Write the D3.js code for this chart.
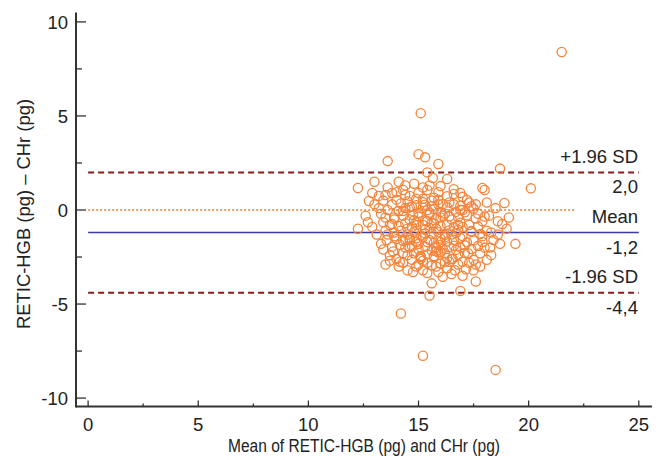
<!DOCTYPE html>
<html><head><meta charset="utf-8">
<script src="https://cdn.jsdelivr.net/npm/d3@7"></script>
<style>body{margin:0;background:#fff}svg{display:block}text{font-family:"Liberation Sans",Arial,sans-serif;fill:#222}</style>
</head><body><svg id="c" width="661" height="460"></svg>
<script>
const meanValues = [21.5,15.1,15.0,15.3,13.6,15.9,18.7,15.4,15.65,16.3,14.1,13.0,12.25,20.1,17.9,18.0,14.3,15.4,15.9,16.0,14.4,14.4,13.2,12.75,16.3,17.2,17.4,18.9,19.1,18.8,12.25,12.7,13.2,13.5,13.4,15.2,15.4,16.1,16.7,14.75,13.6,19.4,18.7,17.6,15.6,16.9,15.5,14.2,15.2,18.5,
14.0,14.15,14.5,14.75,15.2,15.4,15.9,16.3,16.65,17.15,17.5,17.8,18.1,18.25,17.9,18.4,13.55,13.8,13.85,14.15,14.3,14.7,15.0,15.4,15.8,16.2,16.55,17.0,17.5,17.8,17.25,16.9,
18.2,18.5,18.1,18.6,17.9,18.3,17.7,19.0,
12.6,12.9,13.0,13.1,13.3,13.4,13.5,13.7,13.8,13.9,13.7,13.9,13.3,13.6,12.9,
14.6,15.0,15.7,16.6,17.0,14.9,
14.2,14.5,14.9,15.6,15.9,16.4,16.9,17.6,14.0,15.3,
14.1,14.4,15.0,15.2,15.7,16.0,16.3,16.9,17.1,17.5,14.7,
13.9,14.3,14.6,15.0,15.3,15.5,15.8,16.1,16.5,16.8,17.2,17.6,18.0,
13.8,14.1,14.4,14.7,14.9,15.2,15.5,15.7,16.0,16.3,16.6,16.9,17.3,17.7,
13.9,14.2,14.5,14.8,15.1,15.3,15.6,15.9,16.2,16.4,16.7,17.0,17.4,17.8,
14.0,14.3,14.6,14.9,15.2,15.5,15.7,16.0,16.3,16.6,16.9,17.2,17.5,
14.4,14.7,15.0,15.3,15.6,15.9,16.1,16.4,16.7,17.1,17.4,17.7,
14.5,14.8,15.1,15.4,15.7,16.0,16.3,16.8,17.1,
14.3,15.2,15.6,16.0,16.4,16.8,17.3,
14.5,14.9,15.4,15.8,16.2,16.6,17.0,15.1,15.6,16.0,16.5,15.3,15.8,14.8,16.2,15.0,15.5,16.4,16.8,14.6,15.9,17.4,15.2,16.1,
14.8,15.5,16.6,14.0,15.2,16.9,13.5,14.6,15.9,16.6,17.0,13.8,14.3,15.6,
13.6,13.4,13.7,14.1,13.5,14.4,14.9,16.5,17.0,17.6,18.0,18.3,18.6,17.9,18.1,17.3,16.8,16.2,15.7,15.1,14.6,15.8,16.5,15.4,14.9,16.0];
const diffValues = [8.4,5.15,2.97,2.8,2.6,2.45,2.2,2.0,1.7,1.65,1.5,1.5,1.17,1.15,1.17,1.06,1.06,1.06,0.95,1.27,1.3,0.8,0.75,0.48,0.73,0.53,0.2,0.37,-0.4,-0.75,-1.0,-0.65,0.1,-0.4,-0.65,0.42,0.0,0.32,-0.1,-0.27,0.0,-1.8,-1.8,-3.8,-3.9,-4.3,-4.55,-5.5,-7.75,-8.5,
-2.6,-2.75,-3.2,-3.3,-3.2,-3.35,-3.3,-3.1,-3.2,-3.15,-3.2,-3.0,-2.65,-2.0,-1.7,-1.6,-1.6,-1.95,-2.2,-1.85,-2.3,-2.65,-2.9,-2.8,-3.0,-2.75,-2.6,-2.75,-2.65,-2.3,-2.3,-2.0,
-0.3,0.1,-1.1,-1.3,-0.6,-2.4,-0.2,-1.0,
-0.3,-0.9,0.3,-1.3,-0.2,0.5,-1.1,-0.8,0.9,-0.5,-2.7,-1.4,-1.8,1.2,0.9,
0.75,0.9,0.65,0.85,0.7,0.6,
0.35,0.45,0.25,0.5,0.3,0.4,0.22,0.3,0.55,0.28,
-0.05,0.1,-0.15,0.12,0.05,-0.1,0.15,0.0,-0.12,0.08,0.18,
-0.4,-0.3,-0.5,-0.35,-0.55,-0.25,-0.45,-0.3,-0.5,-0.38,-0.28,-0.45,-0.35,
-0.75,-0.85,-0.7,-0.9,-0.65,-0.8,-0.95,-0.7,-0.85,-0.78,-0.92,-0.68,-0.8,-0.88,
-1.2,-1.1,-1.3,-1.15,-1.35,-1.05,-1.25,-1.18,-1.32,-1.08,-1.22,-1.38,-1.12,-1.28,
-1.55,-1.65,-1.5,-1.7,-1.45,-1.6,-1.75,-1.52,-1.68,-1.58,-1.48,-1.72,-1.62,
-2.0,-1.9,-2.1,-1.95,-2.15,-1.85,-2.05,-1.98,-2.12,-1.88,-2.08,-1.92,
-2.4,-2.3,-2.5,-2.35,-2.45,-2.25,-2.55,-2.38,-2.28,
-2.8,-2.7,-2.95,-2.85,-2.75,-2.9,-2.8,
-1.0,-1.5,-0.6,-2.2,-0.2,-1.9,-0.9,-2.45,-0.7,-1.7,-2.6,-1.25,-2.0,-0.55,-1.45,-1.8,-0.15,-0.35,-1.05,-1.6,-2.25,-1.15,0.6,-3.55,
1.4,1.3,1.1,0.95,1.2,0.9,0.8,0.15,0.55,0.3,0.0,0.3,-0.05,0.2,
-1.3,-2.1,-2.4,-3.0,-2.9,-1.6,-3.0,-3.4,-3.5,-2.9,-2.0,-1.2,-0.6,-1.4,0.4,0.4,-0.8,-2.3,-2.5,-2.6,-2.0,-1.0,-1.3,-1.7,-0.8,-0.4];
const xTicks = [0,5,10,15,20,25];
const yTicks = [-10,-5,0,5,10];
const limitValues = [2.0,-1.2,-4.4];
const limitLabels = ["+1.96 SD","Mean","-1.96 SD"];
const limitValueLabels = ["2,0","-1,2","-4,4"];

const svg = d3.select("#c");
const x = d3.scaleLinear().domain([-0.55,25.6]).range([76,652]);
const y = d3.scaleLinear().domain([-10.5,10.5]).range([407.5,12.5]);
const axisCol = "#333";

// reference lines
const g = svg.append("g");
g.append("line").attr("x1",x(0)).attr("x2",x(22.1)).attr("y1",y(0)).attr("y2",y(0))
 .attr("stroke","#f07a2a").attr("stroke-width",1.6).attr("stroke-dasharray","2,2");
g.append("line").attr("x1",x(0)).attr("x2",x(25)).attr("y1",y(limitValues[1])).attr("y2",y(limitValues[1]))
 .attr("stroke","#3b3ba3").attr("stroke-width",1.6);
[limitValues[0],limitValues[2]].forEach(v=>{
  g.append("line").attr("x1",x(0)).attr("x2",x(25)).attr("y1",y(v)).attr("y2",y(v))
   .attr("stroke","#8b1a1a").attr("stroke-width",2).attr("stroke-dasharray","6,4");
});

// points
svg.append("g").selectAll("circle").data(meanValues.map((m,i)=>[m,diffValues[i]])).join("circle")
 .attr("cx",d=>x(d[0])).attr("cy",d=>y(d[1])).attr("r",4.6)
 .attr("fill","none").attr("stroke","#f4843a").attr("stroke-width",1.3);

// axes
const yAxis = svg.append("g").attr("transform",`translate(${x.range()[0]},0)`);
yAxis.append("line").attr("x1",0).attr("x2",0).attr("y1",y.range()[1]).attr("y2",y.range()[0]).attr("stroke",axisCol).attr("stroke-width",2);
d3.range(-10,10.1,2.5).forEach(v=>{
  const major = v%5===0;
  yAxis.append("line").attr("x1",0).attr("x2",major?10:6).attr("y1",y(v)).attr("y2",y(v)).attr("stroke",axisCol).attr("stroke-width",1.3);
});
yAxis.selectAll("text.t").data(yTicks).join("text").attr("class","t")
 .attr("x",-8).attr("y",d=>y(d)).attr("dy","0.36em").attr("text-anchor","end").attr("font-size",18.5).text(d=>d);

const xAxis = svg.append("g").attr("transform",`translate(0,${y.range()[0]-1})`);
xAxis.append("line").attr("x1",x.range()[0]).attr("x2",x.range()[1]).attr("y1",0).attr("y2",0).attr("stroke",axisCol).attr("stroke-width",2);
d3.range(0,25.1,2.5).forEach(v=>{
  const major = v%5===0;
  xAxis.append("line").attr("x1",x(v)).attr("x2",x(v)).attr("y1",0).attr("y2",major?-6:-3).attr("stroke",axisCol).attr("stroke-width",1.3);
});
xAxis.selectAll("text.t").data(xTicks).join("text").attr("class","t")
 .attr("x",d=>x(d)).attr("y",24).attr("text-anchor","middle").attr("font-size",18.5).text(d=>d);

svg.append("text").attr("x",364).attr("y",452).attr("text-anchor","middle").attr("font-size",17.5)
 .attr("textLength",272).attr("lengthAdjust","spacingAndGlyphs")
 .text("Mean of RETIC-HGB (pg) and CHr (pg)");
svg.append("text").attr("transform","translate(30,214) rotate(-90)").attr("text-anchor","middle").attr("font-size",17.5)
 .attr("textLength",230).attr("lengthAdjust","spacingAndGlyphs")
 .text("RETIC-HGB (pg) \u2013 CHr (pg)");

// annotations
const ax = 638;
limitValues.forEach((v,i)=>{
  svg.append("text").attr("x",ax).attr("y",y(v)-9.5).attr("text-anchor","end").attr("font-size",18.5).text(limitLabels[i]);
  svg.append("text").attr("x",ax).attr("y",y(v)+21).attr("text-anchor","end").attr("font-size",18.5).text(limitValueLabels[i]);
});
</script></body></html>
